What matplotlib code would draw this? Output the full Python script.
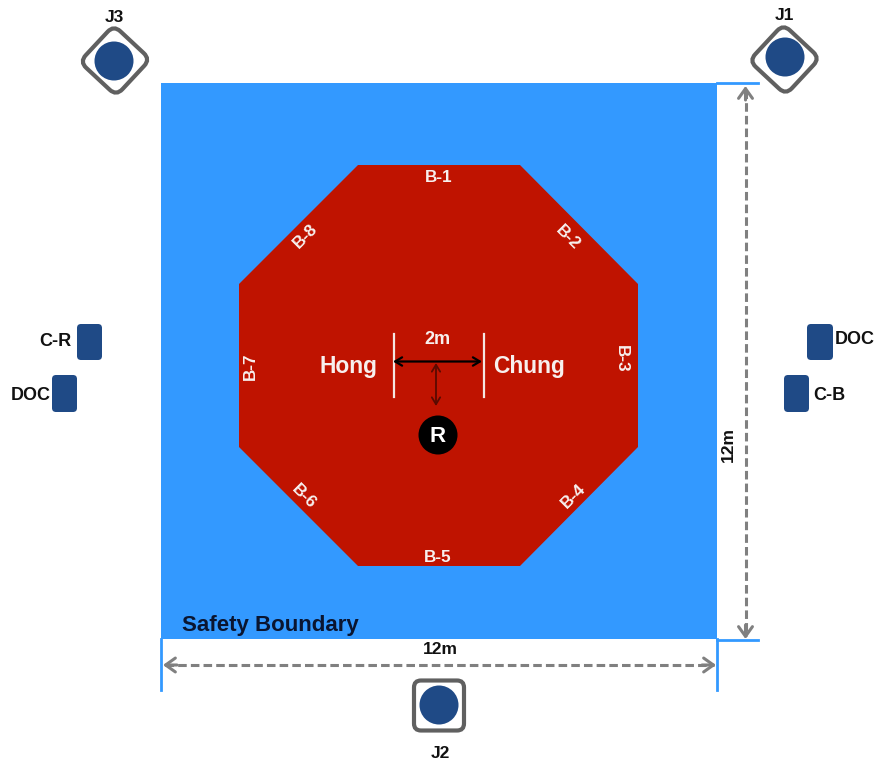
import matplotlib
matplotlib.use("Agg")
import matplotlib.pyplot as plt
from matplotlib.patches import Rectangle, Polygon, Circle, FancyBboxPatch
from matplotlib.transforms import Affine2D

plt.rcParams['font.family'] = ['Liberation Sans', 'DejaVu Sans']

# everything is in picture pixels, y going down
boundary = [161, 83, 556, 556]
octagon_x = [358, 520, 638, 638, 520, 358, 239, 239]
octagon_y = [165, 165, 284, 447, 566, 566, 447, 284]

side_names = ["B-1", "B-2", "B-3", "B-4", "B-5", "B-6", "B-7", "B-8"]
side_x = [439, 568, 621, 573, 438, 304, 250, 305]
side_y = [178, 238, 359, 496, 557, 497, 366, 236]
side_rot = [0, -45, -90, 45, 0, -45, 90, 45]

jammer_names = ["J1", "J2", "J3"]
jammer_x = [785, 439, 114]
jammer_y = [57, 705, 61]
frame_x = [784.5, 439, 115]
frame_y = [59.5, 705.5, 60.5]
frame_round = [9, 7, 9]
jammer_rot = [43, 0, 43]
jammer_label_x = [784, 440, 114]
jammer_label_y = [16, 753, 17]

box_names = ["C-R", "DOC", "DOC", "C-B"]
box_x = [77, 52, 807, 784]
box_y = [324, 375, 324, 375]
box_w = [25, 25, 26, 25]
box_h = [36, 37, 36, 37]
box_label_x = [55, 31, 854.5, 829.5]
box_label_y = [341, 395, 340, 395]

blue = "#3399ff"
red = "#bf1300"
navy = "#1f4a86"
grey = "#808080"
ring = "#606060"

fig = plt.figure(figsize=(8.76, 7.63), dpi=100)
ax = fig.add_axes([0, 0, 1, 1])
ax.set_xlim(0, 876)
ax.set_ylim(763, 0)
ax.axis("off")

ax.add_patch(Rectangle((boundary[0], boundary[1]), boundary[2], boundary[3], fc=blue, ec="none"))
ax.add_patch(Polygon(list(zip(octagon_x, octagon_y)), closed=True, fc=red, ec="none"))

# blue end ticks of the 12m dimensions
ax.plot([717, 758], [83, 83], color=blue, lw=2)
ax.plot([717, 758], [640, 640], color=blue, lw=2)
ax.plot([717, 717], [639, 690], color=blue, lw=2)
ax.plot([161, 161], [639, 690], color=blue, lw=2)

# dashed dimensions
ax.plot([745.5, 745.5], [90, 636], color=grey, lw=2.2, dashes=(2.8, 1.35))
ax.plot([165, 714], [665, 665], color=grey, lw=2.2, dashes=(2.8, 1.35))
arrow_style = dict(arrowstyle="->,head_length=0.7,head_width=0.5", color=grey, lw=2.2, shrinkA=0, shrinkB=0)
ax.annotate("", xy=(745.5, 86), xytext=(745.5, 100), arrowprops=arrow_style)
ax.annotate("", xy=(745.5, 639), xytext=(745.5, 625), arrowprops=arrow_style)
ax.annotate("", xy=(163, 665), xytext=(177, 665), arrowprops=arrow_style)
ax.annotate("", xy=(716, 665), xytext=(702, 665), arrowprops=arrow_style)
ax.text(440, 650, "12m", ha="center", va="center", fontsize=12.5, fontweight="bold", color="#111111")
ax.text(728, 444, "12m", ha="center", va="center", rotation=90, fontsize=12.5, fontweight="bold", color="#111111")
ax.text(182, 625, "Safety Boundary", ha="left", va="center", fontsize=16, fontweight="bold", color="#0a1530")

# jammers
for i, name in enumerate(jammer_names):
    fx, fy, rot = frame_x[i], frame_y[i], jammer_rot[i]
    pad = frame_round[i]
    frame = FancyBboxPatch((fx - 25 + pad, fy - 25 + pad), 50 - 2 * pad, 50 - 2 * pad,
                           boxstyle=f"round,pad={pad},rounding_size={pad}",
                           fc="white", ec=ring, lw=3)
    frame.set_transform(Affine2D().rotate_deg_around(fx, fy, rot) + ax.transData)
    ax.add_patch(frame)
    ax.add_patch(Circle((jammer_x[i], jammer_y[i]), 19.5, fc=navy, ec="none"))
    ax.text(jammer_label_x[i], jammer_label_y[i], name, ha="center", va="center",
            fontsize=12.5, fontweight="bold", color="#111111")

# side boxes
for name, x, y, w, h, lx, ly in zip(box_names, box_x, box_y, box_w, box_h, box_label_x, box_label_y):
    ax.add_patch(FancyBboxPatch((x + 3, y + 3), w - 6, h - 6, boxstyle="round,pad=3,rounding_size=4",
                                fc=navy, ec="none"))
    ax.text(lx, ly, name, ha="center", va="center", fontsize=13, fontweight="bold", color="#111111")

for name, x, y, rot in zip(side_names, side_x, side_y, side_rot):
    ax.text(x, y, name, ha="center", va="center", rotation=rot, rotation_mode="anchor",
            fontsize=12.3, fontweight="bold", color="#f7f0ee")

# centre marks
ax.plot([393.5, 393.5], [334, 397], color="#f4e6e2", lw=1.6)
ax.plot([484, 484], [334, 397], color="#f4e6e2", lw=1.6)
ax.annotate("", xy=(393, 361.5), xytext=(482, 361.5),
            arrowprops=dict(arrowstyle="<->,head_length=0.5,head_width=0.3", color="black", lw=1.6, shrinkA=0, shrinkB=0))
ax.annotate("", xy=(436, 363), xytext=(436, 406),
            arrowprops=dict(arrowstyle="<->,head_length=0.5,head_width=0.3", color="#5a0a00", lw=1.3, shrinkA=0, shrinkB=0))
ax.text(437, 340, "2m", ha="center", va="center", fontsize=13, fontweight="bold", color="#f7f0ee")
ax.text(348.5, 367, "Hong", ha="center", va="center", fontsize=16.4, fontweight="bold", color="#f7f0ee")
ax.text(529, 367, "Chung", ha="center", va="center", fontsize=16.4, fontweight="bold", color="#f7f0ee")
ax.add_patch(Circle((438, 435), 19.5, fc="black", ec="none"))
ax.text(438, 436, "R", ha="center", va="center", fontsize=16, fontweight="bold", color="white")

fig.savefig("out.png", dpi=100, facecolor="white")
